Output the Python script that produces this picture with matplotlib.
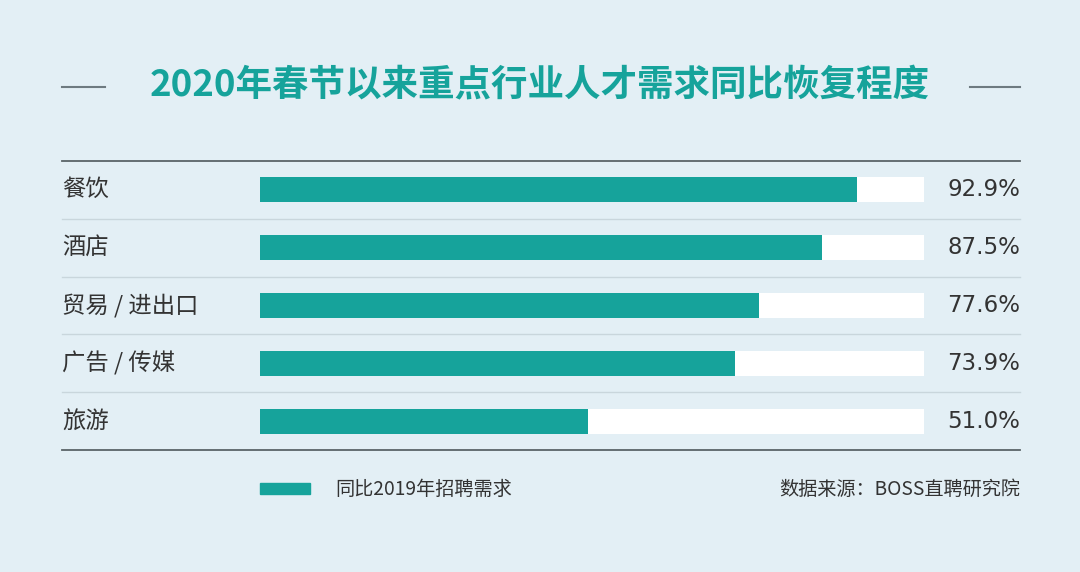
import matplotlib.pyplot as plt
import matplotlib.transforms as mtransforms
from matplotlib.patches import Rectangle

plt.rcParams['font.family'] = ['Noto Sans CJK SC', 'DejaVu Sans']

# 数据
行业 = ["餐饮", "酒店", "贸易 / 进出口", "广告 / 传媒", "旅游"]
恢复程度 = [92.9, 87.5, 77.6, 73.9, 51.0]
标签 = ["92.9%", "87.5%", "77.6%", "73.9%", "51.0%"]
标题 = "2020年春节以来重点行业人才需求同比恢复程度"
图例 = "同比2019年招聘需求"
来源 = "数据来源：BOSS直聘研究院"

bg = '#e3eff5'
teal = '#16a39b'
texto = '#333333'

fig = plt.figure(figsize=(10.8, 5.72), dpi=100)
fig.patch.set_facecolor(bg)

# eixo das barras (x 260..924 px, y 161..450 px)
ax = fig.add_axes([260 / 1080, 1 - 450 / 572, 664 / 1080, 289 / 572])
ax.set_facecolor('none')
xmax = 103.3
ax.set_xlim(0, xmax)
ax.set_ylim(len(行业) - 0.5, -0.5)
ax.axis('off')

y = list(range(len(行业)))
ax.barh(y, [xmax] * len(行业), height=0.43, color='white', zorder=1)
ax.barh(y, 恢复程度, height=0.43, color=teal, zorder=2)

# linhas separadoras
esq, dir_ = (62 - 260) / 664, (1020 - 260) / 664
for i in range(len(行业) + 1):
    borda = i == 0 or i == len(行业)
    ax.axhline(i - 0.5, xmin=esq, xmax=dir_, clip_on=False,
               color='#5a6468' if borda else '#c9d6dc',
               lw=1.3 if borda else 1.0, zorder=0)

trans = mtransforms.blended_transform_factory(ax.transAxes, ax.transData)
for i, (nome, lab) in enumerate(zip(行业, 标签)):
    ax.text(esq, i, nome, transform=trans, ha='left', va='center',
            fontsize=16.8, color=texto)
    ax.text(dir_, i, lab, transform=trans, ha='right', va='center',
            fontsize=16.5, color=texto, family=['DejaVu Sans'])

# titulo e tracos laterais
fig.text(0.5, 1 - 86 / 572, 标题, ha='center', va='center', fontsize=26.3,
         fontweight='bold', color=teal)
fig.add_artist(plt.Line2D([62 / 1080, 105 / 1080], [1 - 87 / 572] * 2,
                          color='#6e7a80', lw=1.5))
fig.add_artist(plt.Line2D([970 / 1080, 1020 / 1080], [1 - 87 / 572] * 2,
                          color='#6e7a80', lw=1.5))

# legenda e fonte
fig.add_artist(Rectangle((260 / 1080, 1 - 494 / 572), 50 / 1080, 11 / 572,
                         transform=fig.transFigure, color=teal))
fig.text(335 / 1080, 1 - 489 / 572, 图例, ha='left', va='center',
         fontsize=13.8, color=texto)
fig.text(1020 / 1080, 1 - 489 / 572, 来源, ha='right', va='center',
         fontsize=13.8, color=texto)

plt.savefig('out.png', dpi=100, facecolor=bg)
